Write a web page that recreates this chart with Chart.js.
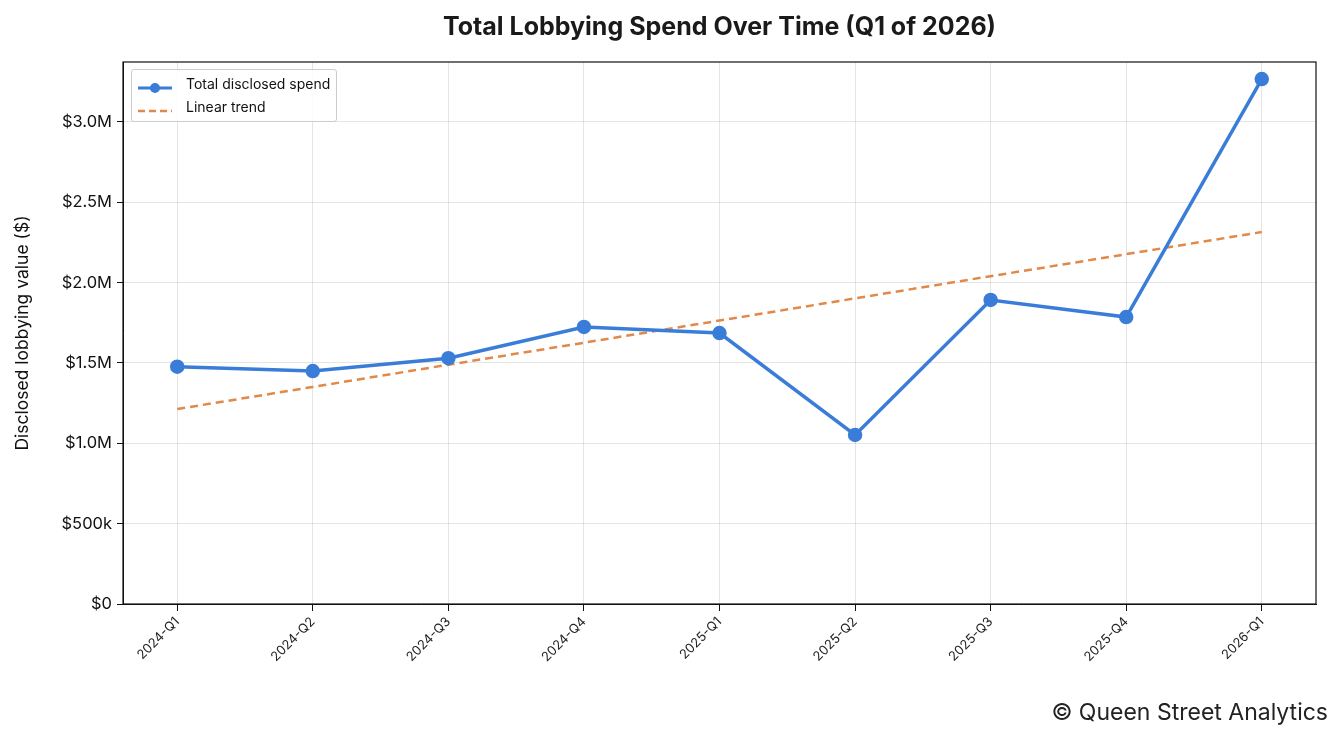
<!DOCTYPE html>
<html>
<head>
<meta charset="utf-8">
<script src="https://cdn.jsdelivr.net/npm/chart.js@4"></script>
<style>
  body { margin: 0; background: #fff; font-family: Inter, sans-serif; }
  #wrap { position: relative; width: 1343px; height: 744px; }
  #title { position: absolute; left: 123px; width: 1193px; top: 11px; text-align: center; font-size: 25px; font-weight: bold; color: #1a1a1a; }
  #credit { position: absolute; right: 15px; top: 698px; font-size: 23px; color: #222; }
  #legend { position: absolute; left: 131px; top: 69px; border: 1px solid #ccc; border-radius: 3px;
            background: rgba(255,255,255,0.85); padding: 2px 6px 3px 6px; font-size: 14px; color: #111; }
  .row { display: flex; align-items: center; height: 23px; }
  .sw { width: 34px; margin-right: 14px; position: relative; height: 10px; }
</style>
</head>
<body>
<div id="wrap">
  <canvas id="c" width="1343" height="744"></canvas>
  <div id="title">Total Lobbying Spend Over Time (Q1 of 2026)</div>
  <div id="legend">
    <div class="row"><div class="sw"><svg width="34" height="10"><line x1="0" y1="5" x2="34" y2="5" stroke="#3a7dd8" stroke-width="3"/><circle cx="17" cy="5" r="5" fill="#3a7dd8"/></svg></div>Total disclosed spend</div>
    <div class="row"><div class="sw"><svg width="34" height="10"><line x1="0" y1="5" x2="34" y2="5" stroke="#e0894a" stroke-width="2.5" stroke-dasharray="7,4"/></svg></div>Linear trend</div>
  </div>
  <div id="credit">© Queen Street Analytics</div>
</div>
<script>
const quarters = ["2024-Q1","2024-Q2","2024-Q3","2024-Q4","2025-Q1","2025-Q2","2025-Q3","2025-Q4","2026-Q1"];
const spend = [1477000, 1450000, 1530000, 1724000, 1686000, 1052000, 1892000, 1786000, 3267000];
const trend = [1213000, 1351000, 1489000, 1626000, 1764000, 1902000, 2040000, 2177000, 2315000];
const yTicks = [0, 500000, 1000000, 1500000, 2000000, 2500000, 3000000];

function money(v) {
  if (v === 0) return "$0";
  if (v < 1000000) return "$" + (v / 1000) + "k";
  return "$" + (v / 1000000).toFixed(1) + "M";
}

const frame = {
  id: "frame",
  afterDraw(chart) {
    const a = chart.chartArea, ctx = chart.ctx;
    ctx.save();
    ctx.strokeStyle = "#111";
    ctx.lineWidth = 1.2;
    ctx.strokeRect(a.left, a.top, a.right - a.left, a.bottom - a.top);
    ctx.restore();
  }
};

new Chart(document.getElementById("c"), {
  type: "line",
  data: {
    datasets: [
      {
        label: "Total disclosed spend",
        data: spend.map((v, i) => ({ x: i, y: v })),
        borderColor: "#3a7dd8", backgroundColor: "#3a7dd8",
        borderWidth: 3.5, pointRadius: 5.5, pointHoverRadius: 5.5
      },
      {
        label: "Linear trend",
        data: trend.map((v, i) => ({ x: i, y: v })),
        borderColor: "#e0894a", borderWidth: 2.5, borderDash: [8, 5], pointRadius: 0
      }
    ]
  },
  options: {
    responsive: false,
    animation: false,
    layout: { padding: { left: 12, right: 27, top: 62, bottom: 0 } },
    plugins: {
      legend: { display: false },
      tooltip: { enabled: false },
      title: { display: false }
    },
    scales: {
      x: {
        type: "linear", min: -0.4, max: 8.4,
        afterBuildTicks(ax) { ax.ticks = quarters.map((q, i) => ({ value: i })); },
        afterFit(ax) { ax.height = 140; },
        ticks: {
          callback: (v) => quarters[v],
          maxRotation: 45, minRotation: 45,
          font: { family: "Inter", size: 13 }, color: "#222"
        },
        grid: { color: "rgba(0,0,0,0.1)", tickColor: "#111", tickLength: 7 },
        border: { color: "#111" }
      },
      y: {
        min: 0, max: 3373000,
        afterBuildTicks(ax) { ax.ticks = yTicks.map(v => ({ value: v })); },
        afterFit(ax) { ax.width = 111; },
        ticks: { callback: (v) => money(v), font: { family: "Inter", size: 16.5 }, color: "#111", padding: 5 },
        grid: { color: "rgba(0,0,0,0.1)", tickColor: "#111", tickLength: 6 },
        border: { color: "#111" },
        title: { display: true, text: "Disclosed lobbying value ($)", font: { family: "Inter", size: 17.5 }, color: "#111", padding: 0 }
      }
    }
  },
  plugins: [frame]
});
</script>
</body>
</html>
